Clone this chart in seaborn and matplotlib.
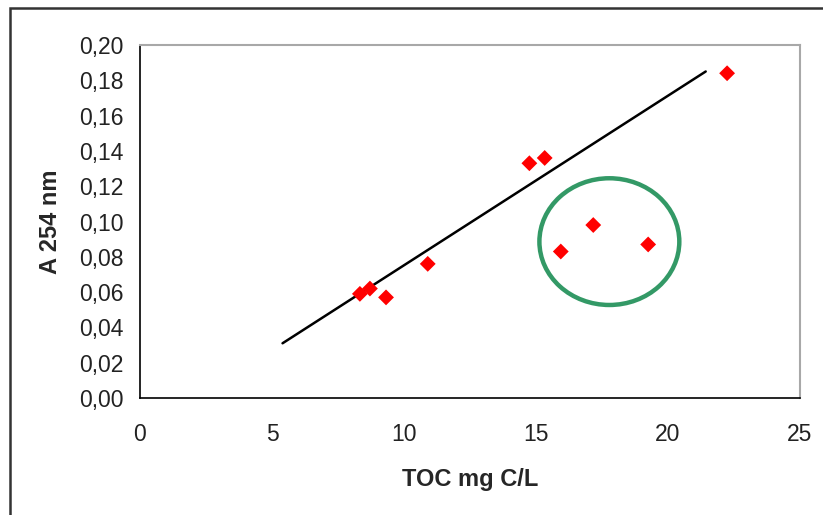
import numpy as np
import pandas as pd
import matplotlib
matplotlib.use("Agg")
import matplotlib.pyplot as plt
from matplotlib.patches import Ellipse, Rectangle
from matplotlib.ticker import FuncFormatter
import seaborn as sns

# data
toc = [8.33, 8.71, 9.32, 10.9, 14.75, 15.33, 15.94, 17.17, 19.25, 22.24]
a254 = [0.059, 0.062, 0.057, 0.076, 0.133, 0.136, 0.083, 0.098, 0.087, 0.184]
trend_x = [5.40, 21.43]
trend_y = [0.031, 0.185]
x_ticks = [0, 5, 10, 15, 20, 25]
y_ticks = [0.00, 0.02, 0.04, 0.06, 0.08, 0.10, 0.12, 0.14, 0.16, 0.18, 0.20]

df = pd.DataFrame({"TOC": toc, "A254": a254})
trend = pd.DataFrame({"x": trend_x, "y": trend_y})

sns.set_theme(style="white")
plt.rcParams['font.family'] = ['Liberation Sans', 'DejaVu Sans']

fig = plt.figure(figsize=(8.23, 5.15), dpi=100)
ax = fig.add_axes([0.1701, 0.2272, 0.8019, 0.6854])

sns.lineplot(data=trend, x="x", y="y", color="black", linewidth=1.8, ax=ax)
sns.scatterplot(data=df, x="TOC", y="A254", marker="D", color="#ff0000",
                s=65, edgecolor="none", ax=ax, zorder=3)

# green circle around the outliers
ax.add_patch(Ellipse((17.78, 0.0886), 5.3, 0.0718, fill=False,
                     edgecolor="#339966", linewidth=3.2, zorder=4))

ax.set_xlim(0, 25)
ax.set_ylim(0, 0.20)
ax.set_xticks(x_ticks)
ax.set_yticks(y_ticks)
ax.yaxis.set_major_formatter(FuncFormatter(lambda v, p: f"{v:.2f}".replace(".", ",")))
ax.tick_params(axis="both", direction="out", length=6, width=1.2, color="black",
               labelsize=16.5, labelcolor="#222222")
ax.tick_params(axis="x", pad=12)
ax.tick_params(axis="y", pad=6)
ax.set_xlabel("TOC mg C/L", fontsize=17, fontweight="bold", labelpad=16)
ax.set_ylabel("A 254 nm", fontsize=17, fontweight="bold", labelpad=12)

for side in ["left", "bottom"]:
    ax.spines[side].set_color("black")
    ax.spines[side].set_linewidth(1.2)
for side in ["top", "right"]:
    ax.spines[side].set_color("#a8a8a8")
    ax.spines[side].set_linewidth(1.5)

# outer frame of the chart area
fig.patches.append(Rectangle((10 / 823, -0.2), 1.2, 1.2 - 8 / 515, fill=False,
                             edgecolor="#333333", linewidth=1.8,
                             transform=fig.transFigure, figure=fig))

fig.savefig("out.png", dpi=100)
